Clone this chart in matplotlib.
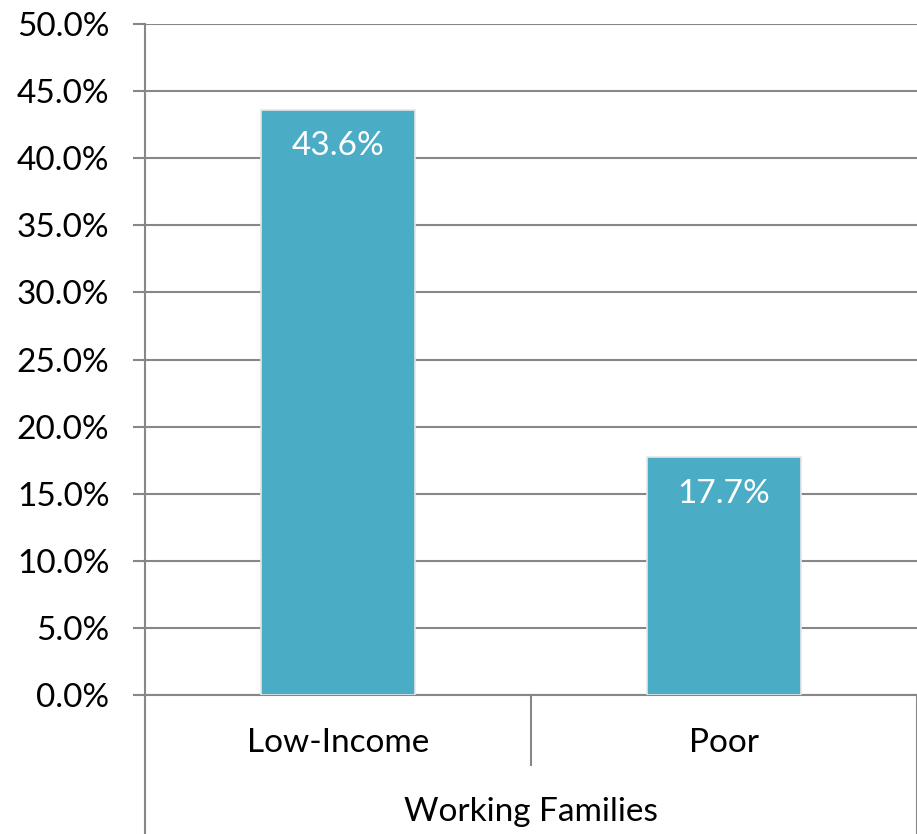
import matplotlib.pyplot as plt
from matplotlib.ticker import MultipleLocator, FuncFormatter

categories = ['Low-Income', 'Poor']
values = [43.6, 17.7]
group_label = 'Working Families'

plt.rcParams['font.family'] = ['Lato', 'DejaVu Sans']
fs = 24

fig = plt.figure(figsize=(9.17, 8.34), dpi=100)
ax = fig.add_axes([145/917, 139/834, 772/917, 671/834])

x = [0, 1]
bars = ax.bar(x, values, width=0.4, color='#4BACC6', edgecolor='#e6e6e6',
              linewidth=1.2, zorder=3)
for b, v in zip(bars, values):
    ax.text(b.get_x() + b.get_width()/2, v - 2.7, f'{v:.1f}%', color='white',
            ha='center', va='center', fontsize=fs, zorder=4)

ax.set_xlim(-0.5, 1.5)
ax.set_ylim(0, 50)
ax.yaxis.set_major_locator(MultipleLocator(5))
ax.yaxis.set_major_formatter(FuncFormatter(lambda v, p: f'{v:.1f}%'))
ax.grid(axis='y', color='#878787', linewidth=1.5, zorder=0)
ax.tick_params(axis='y', length=8.6, width=1.5, color='#878787', labelsize=fs,
               pad=17)
ax.tick_params(axis='x', length=0)
ax.set_xticks([])

for s in ['top', 'right']:
    ax.spines[s].set_visible(False)
ax.spines['left'].set_color('#878787')
ax.spines['left'].set_linewidth(1.5)
ax.spines['bottom'].set_color('#878787')
ax.spines['bottom'].set_linewidth(1.5)

# multi-level category axis below the plot
tr = ax.get_xaxis_transform()
ax.plot([-0.5, -0.5], [0, -139/671], transform=tr, color='#878787', lw=1.5, clip_on=False)
ax.plot([0.5, 0.5], [0, -70/671], transform=tr, color='#878787', lw=1.5, clip_on=False)
ax.plot([1.5, 1.5], [0, -139/671], transform=tr, color='#878787', lw=1.5, clip_on=False)
for xi, c in zip(x, categories):
    ax.text(xi, -48/671, c, transform=tr, ha='center', va='center', fontsize=fs)
ax.text(0.5, -117/671, group_label, transform=tr, ha='center', va='center', fontsize=fs)

fig.savefig('out.png', dpi=100)
